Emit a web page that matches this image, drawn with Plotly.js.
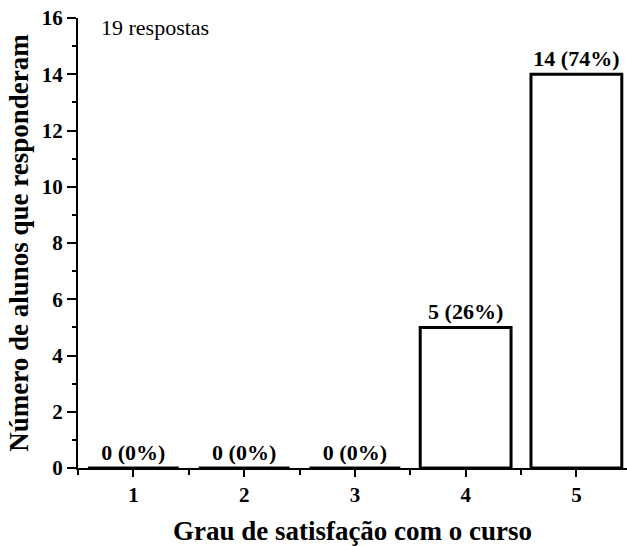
<!DOCTYPE html>
<html>
<head>
<meta charset="utf-8">
<script src="https://cdn.plot.ly/plotly-3.0.1.min.js"></script>
<style>html,body{margin:0;padding:0;background:#fff;}#chart{width:627px;height:546px;}</style>
</head>
<body>
<div id="chart"></div>
<script>
const categories = [1, 2, 3, 4, 5];
const counts = [0, 0, 0, 5, 14];
const percents = [0, 0, 0, 26, 74];
const barLabels = counts.map((c, i) => c + ' (' + percents[i] + '%)');
const xTitle = 'Grau de satisfação com o curso';
const yTitle = 'Número de alunos que responderam';
const note = '19 respostas';

const FONT = 'Liberation Serif';

const trace = {
  type: 'bar',
  x: categories,
  y: counts,
  width: 0.82,
  text: barLabels,
  texttemplate: '<b>%{text}</b>',
  textposition: 'outside',
  cliponaxis: false,
  textfont: {family: FONT, size: 22, color: '#000'},
  marker: {color: '#ffffff', line: {color: '#000000', width: 3}},
  hoverinfo: 'none'
};

const layout = {
  width: 627,
  height: 546,
  margin: {l: 78, r: 0, t: 18, b: 78},
  paper_bgcolor: '#ffffff',
  plot_bgcolor: '#ffffff',
  showlegend: false,
  font: {family: FONT, color: '#000'},
  xaxis: {
    range: [0.5, 5.457],
    tickmode: 'linear', tick0: 1, dtick: 1,
    ticks: 'outside', ticklen: 7, tickwidth: 2, tickcolor: '#000',
    minor: {tick0: 0.5, dtick: 1, ticks: 'outside', ticklen: 5, tickwidth: 2, tickcolor: '#000'},
    showline: true, linecolor: '#000', linewidth: 2,
    showgrid: false, zeroline: false,
    tickfont: {family: FONT, size: 21, color: '#000', weight: 'bold'},
    title: {text: xTitle, font: {family: FONT, size: 27, color: '#000', weight: 'bold'}, standoff: 20}
  },
  yaxis: {
    range: [0, 16],
    tickmode: 'linear', tick0: 0, dtick: 2,
    ticks: 'outside', ticklen: 9, tickwidth: 2, tickcolor: '#000',
    minor: {tick0: 0, dtick: 1, ticks: 'outside', ticklen: 4, tickwidth: 2, tickcolor: '#000'},
    showline: true, linecolor: '#000', linewidth: 2,
    showgrid: false, zeroline: false,
    tickfont: {family: FONT, size: 21, color: '#000', weight: 'bold'},
    title: {text: yTitle, font: {family: FONT, size: 27, color: '#000', weight: 'bold'}, standoff: 5}
  },
  annotations: [{
    xref: 'paper', yref: 'paper', x: 0.038, y: 0.98,
    xanchor: 'left', yanchor: 'middle', showarrow: false,
    text: note, font: {family: FONT, size: 22, color: '#000'}
  }]
};

Plotly.newPlot('chart', [trace], layout, {displayModeBar: false, staticPlot: true});
</script>
</body>
</html>
